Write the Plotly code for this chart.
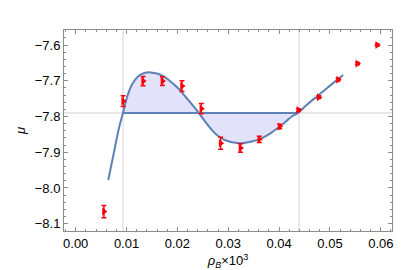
import plotly.graph_objects as go

# Data points (rho_B x 10^3, mu) with error bars
rho = [0.00555, 0.00933, 0.01325, 0.01706, 0.0209, 0.0247, 0.0285, 0.0324,
       0.0361, 0.0401, 0.0438, 0.0478, 0.0516, 0.0554, 0.0593]
mu = [-8.066, -7.757, -7.701, -7.701, -7.715, -7.778, -7.875, -7.888,
      -7.864, -7.828, -7.782, -7.746, -7.697, -7.652, -7.600]
err = [0.017, 0.015, 0.013, 0.012, 0.015, 0.014, 0.017, 0.012,
       0.009, 0.006, 0.004, 0.004, 0.004, 0.003, 0.003]

# Fitted curve
curve_x = [0.0064, 0.0075, 0.0085, 0.0093, 0.0101, 0.0111, 0.0124, 0.0134, 0.0144,
           0.0153, 0.0163, 0.0173, 0.0183, 0.0193, 0.0203, 0.0212, 0.0222, 0.0232,
           0.0242, 0.0255, 0.0268, 0.0277, 0.0287, 0.0297, 0.0307, 0.0317, 0.0327,
           0.0336, 0.0346, 0.0356, 0.0366, 0.0375, 0.0385, 0.0395, 0.0405, 0.0415,
           0.0425, 0.0437, 0.0454, 0.0469, 0.0484, 0.0505, 0.0526]
curve_y = [-7.978, -7.902, -7.833, -7.790, -7.746, -7.710, -7.686, -7.679, -7.6765,
           -7.678, -7.681, -7.688, -7.698, -7.710, -7.723, -7.738, -7.755, -7.772,
           -7.790, -7.815, -7.838, -7.851, -7.861, -7.868, -7.872, -7.874, -7.875,
           -7.873, -7.870, -7.866, -7.861, -7.854, -7.845, -7.835, -7.824, -7.812,
           -7.800, -7.790, -7.768, -7.750, -7.733, -7.708, -7.684]

# Maxwell construction level and coexistence bounds
mu_c = -7.79
x_lo = 0.0093
x_hi = 0.0437
x_vlines = [0.0093, 0.0439]

x_ticks = [0.00, 0.01, 0.02, 0.03, 0.04, 0.05, 0.06]
y_ticks = [-8.1, -8.0, -7.9, -7.8, -7.7, -7.6]

blue = "rgb(94,129,181)"
red = "rgb(250,0,10)"
guide = "rgb(225,225,225)"

fig = go.Figure()

# shaded area between curve and Maxwell line
fx = [x for x in curve_x if x_lo <= x <= x_hi]
fy = [y for x, y in zip(curve_x, curve_y) if x_lo <= x <= x_hi]
fig.add_trace(go.Scatter(x=fx + [x_hi, x_lo], y=fy + [mu_c, mu_c], fill="toself",
                         fillcolor="rgb(226,226,250)", line=dict(width=0),
                         mode="lines", hoverinfo="skip", showlegend=False))

# gray guide lines
fig.add_shape(type="line", xref="paper", yref="y", x0=0, x1=1, y0=mu_c, y1=mu_c,
              line=dict(color=guide, width=1.5), layer="below")
for xv in x_vlines:
    fig.add_shape(type="line", xref="x", yref="paper", x0=xv, x1=xv, y0=0, y1=1,
                  line=dict(color=guide, width=1.5), layer="below")

# Maxwell line
fig.add_trace(go.Scatter(x=[x_lo, x_hi], y=[mu_c, mu_c], mode="lines",
                         line=dict(color=blue, width=2), showlegend=False))
# fitted curve
fig.add_trace(go.Scatter(x=curve_x, y=curve_y, mode="lines", line_shape="spline",
                         line=dict(color=blue, width=2), showlegend=False))
# data
fig.add_trace(go.Scatter(x=rho, y=mu, mode="markers",
                         marker=dict(symbol="triangle-right", size=7, color=red),
                         error_y=dict(type="data", array=err, color=red,
                                      thickness=1.5, width=2.5),
                         showlegend=False))

axis_common = dict(showgrid=False, zeroline=False, showline=True, linecolor="rgb(140,140,140)",
                   linewidth=1, mirror="ticks", ticks="inside", ticklen=4,
                   tickcolor="rgb(140,140,140)",
                   tickfont=dict(family="Liberation Sans, Arial", size=13, color="black"))

fig.update_xaxes(range=[-0.0023, 0.0622], tickvals=x_ticks, tickformat=".2f",
                 minor=dict(ticks="inside", ticklen=2, dtick=0.002, tick0=0,
                            tickcolor="rgb(140,140,140)", showgrid=False),
                 title=dict(text="<i>ρ</i><sub><i>B</i></sub>×10<sup>3</sup>",
                            font=dict(family="Liberation Sans, Arial", size=13, color="black"),
                            standoff=6),
                 **axis_common)
fig.update_yaxes(range=[-8.1204, -7.558], tickvals=y_ticks, tickformat=".1f",
                 minor=dict(ticks="inside", ticklen=2, dtick=0.02, tick0=-8.1,
                            tickcolor="rgb(140,140,140)", showgrid=False),
                 title=dict(text="<i>μ</i>",
                            font=dict(family="Liberation Sans, Arial", size=13, color="black"),
                            standoff=6),
                 **axis_common)

fig.update_layout(width=407, height=270, margin=dict(l=55, r=23, t=22, b=44),
                  plot_bgcolor="white", paper_bgcolor="white")

fig.write_html("out.html")
